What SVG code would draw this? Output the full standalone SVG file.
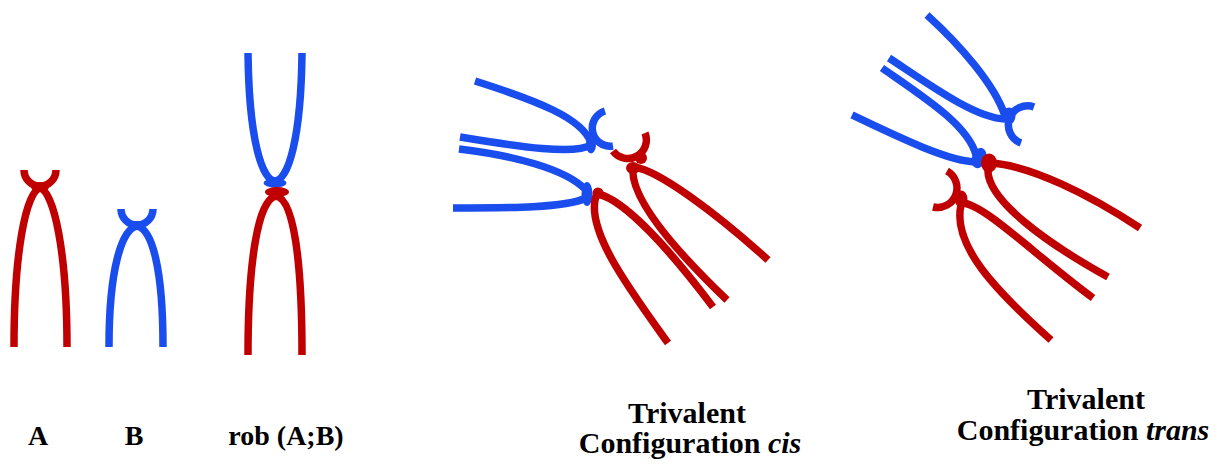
<svg xmlns="http://www.w3.org/2000/svg" width="1228" height="473" viewBox="0 0 1228 473">
<style>
.arm{fill:none;stroke-width:7.5;stroke-linecap:butt;stroke-linejoin:round}
.r{stroke:#C00000}
.b{stroke:#1A4DEE}
.kr{fill:#C00000}
.kb{fill:#1A4DEE}
</style>
<rect width="1228" height="473" fill="#fff"/>

<g id="chromA">
<path class="arm r" d="M14,347 C14,252 26,192 40,188 C54,192 67,252 67,347"/>
<path class="arm r" d="M24,170 A16,16 0 0 0 56,170"/>
<ellipse class="kr" cx="40" cy="187" rx="9" ry="5"/>
</g>

<g id="chromB">
<path class="arm b" d="M109,347 C109,268 122,229 137,226 C152,229 163,268 163,347"/>
<path class="arm b" d="M121,209 A16,16 0 0 0 153,209"/>
<ellipse class="kb" cx="137" cy="225" rx="8" ry="4"/>
</g>

<g id="chromRob">
<path class="arm b" d="M248,53 C249,140 262,180 275,181 C288,180 301,140 302,53"/>
<path class="arm r" d="M248,355 C248,262 258,199 276,196 C294,199 302,262 302,355"/>
<ellipse class="kb" cx="275" cy="183" rx="11.5" ry="4.5"/>
<ellipse class="kr" cx="277" cy="192" rx="12" ry="5"/>
</g>

<g id="cis-blue1">
<path class="arm b" d="M475,81 C535,100 583,118 591,143"/>
<path class="arm b" d="M460,137 C520,147 575,155 591,145"/>
<path class="arm b" d="M605,111 A18,18 0 0 0 613,146"/>
<ellipse class="kb" cx="591" cy="145" rx="5" ry="8.5"/>
</g>

<g id="cis-red1">
<path class="arm r" d="M634,167 C658,170 715,212 768,260"/>
<path class="arm r" d="M633,168 C630,200 680,255 727,300"/>
<path class="arm r" d="M645,133 A18.5,18.5 0 0 1 613,151"/>
<circle class="kr" cx="641" cy="158" r="6"/>
<ellipse class="kr" cx="633" cy="168" rx="7" ry="6"/>
</g>

<g id="cis-blue2">
<path class="arm b" d="M459,149 C510,155 565,168 586,190"/>
<path class="arm b" d="M453,208 C510,208 565,208 586,198"/>
<ellipse class="kb" cx="587" cy="194" rx="5.5" ry="12"/>
</g>

<g id="cis-red2">
<path class="arm r" d="M598,194 C625,200 670,250 713,307"/>
<path class="arm r" d="M596,196 C585,230 630,290 668,343"/>
<circle class="kr" cx="598" cy="193" r="5.5"/>
</g>

<g id="trans-blue1">
<path class="arm b" d="M927,15 C960,45 995,85 1005,116"/>
<path class="arm b" d="M889,58 C930,85 975,118 1005,119"/>
<path class="arm b" d="M1034,107 A19,19 0 0 0 1021,143"/>
<ellipse class="kb" cx="1009" cy="116" rx="6.5" ry="8.5"/>
</g>

<g id="trans-blue2">
<path class="arm b" d="M882,68 C925,98 968,125 976,155"/>
<path class="arm b" d="M852,115 C900,138 950,162 977,162"/>
<ellipse class="kb" cx="979" cy="158" rx="7" ry="10.5" transform="rotate(20 979 158)"/>
</g>

<g id="trans-red1">
<path class="arm r" d="M990,163 C1030,165 1090,195 1140,228"/>
<path class="arm r" d="M988,168 C985,200 1050,245 1108,277"/>
<ellipse class="kr" cx="989" cy="163" rx="8" ry="9.5"/>
</g>

<g id="trans-red2">
<path class="arm r" d="M963,203 C985,205 1035,255 1093,298"/>
<path class="arm r" d="M961,205 C952,245 995,290 1051,340"/>
<path class="arm r" d="M947,171 A19.5,19.5 0 0 1 933,207"/>
<ellipse class="kr" cx="961" cy="199" rx="6.5" ry="8.5"/>
</g>

<g id="labels" font-family="Liberation Serif, Times New Roman, DejaVu Serif, serif" font-weight="bold" fill="#000" text-anchor="middle">
<text x="38" y="445" font-size="28">A</text>
<text x="134" y="445" font-size="28">B</text>
<text x="286" y="445" font-size="28">rob (A;B)</text>
<text x="687" y="423" font-size="30">Trivalent</text>
<text x="690" y="453" font-size="30">Configuration <tspan font-style="italic">cis</tspan></text>
<text x="1086" y="409" font-size="30">Trivalent</text>
<text x="1083" y="440" font-size="30">Configuration <tspan font-style="italic">trans</tspan></text>
</g>
</svg>
